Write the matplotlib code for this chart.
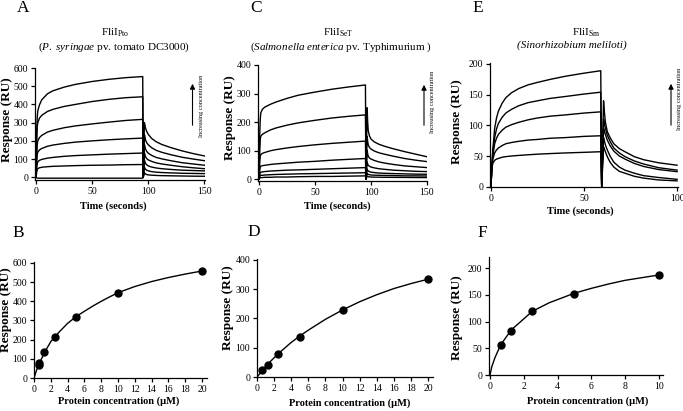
import matplotlib
matplotlib.use("Agg")
import matplotlib.pyplot as plt

plt.rcParams['font.family'] = ['Liberation Serif', 'DejaVu Serif']
plt.rcParams['mathtext.fontset'] = 'custom'
plt.rcParams['mathtext.rm'] = 'Liberation Serif'
plt.rcParams['mathtext.it'] = 'Liberation Serif:italic'
plt.rcParams['mathtext.bf'] = 'Liberation Serif:bold'

# ---------------- data: sensorgrams ----------------
# Panel A (FliI Pto)
A_t_assoc = [0, 0.5, 1, 1.5, 3, 5, 10, 15, 25, 35, 50, 65, 80, 95]
A_assoc = [
    [0, 250, 330, 365, 398, 425, 458, 475, 495, 510, 526, 538, 547, 553],
    [0, 200, 280, 300, 325, 340, 361, 373, 389, 400, 416, 428, 437, 442],
    [0, 130, 180, 200, 218, 230, 248, 258, 272, 282, 293, 303, 312, 318],
    [0, 90, 125, 138, 150, 158, 170, 177, 186, 193, 200, 206, 211, 215],
    [0, 55, 75, 85, 93, 98, 105, 109, 115, 119, 123, 127, 130, 133],
    [0, 30, 42, 48, 52, 55, 58, 60, 62, 64, 66, 67, 69, 70],
    [0, -3, -4, -5, -5, -5, -5, -5, -5, -5, -5, -5, -5, -5],
]
A_t_diss = [95.5, 96.5, 97, 97.5, 98.5, 100, 103, 107, 112, 120, 130, 140, 150]
A_diss = [
    [0, 300, 285, 270, 252, 235, 213, 195, 180, 163, 145, 130, 117],
    [0, 235, 220, 205, 190, 178, 162, 148, 137, 124, 110, 100, 91],
    [0, 180, 168, 155, 142, 132, 120, 109, 101, 91, 80, 73, 66],
    [0, 135, 123, 112, 103, 95, 87, 79, 73, 66, 58, 52, 47],
    [0, 95, 85, 76, 69, 62, 56, 51, 47, 43, 39, 37, 35],
    [0, 55, 49, 44, 39, 35, 31, 28, 26, 24, 22, 21, 20],
    [0, 25, 21, 18, 15, 13, 11.5, 10, 9, 8, 7, 6, 5.5],
]

# Panel C (FliI SeT)
C_t_assoc = [0, 0.5, 1, 1.5, 3, 5, 10, 15, 25, 35, 50, 65, 80, 95]
C_assoc = [
    [0, 150, 210, 232, 245, 252, 262, 270, 283, 294, 305, 315, 323, 330],
    [0, 100, 140, 150, 157, 162, 172, 179, 189, 197, 206, 214, 220, 225],
    [0, 60, 80, 86, 90, 93, 99, 103, 109, 114, 120, 125, 129, 133],
    [0, 30, 42, 45, 47, 48, 51, 53, 56, 59, 62, 66, 69, 72],
    [0, 15, 22, 24, 25, 26, 28, 29, 31, 32, 34, 36, 38, 40],
    [0, 8, 12, 13, 13, 14, 15, 16, 17, 18, 19, 20, 21, 22],
    [0, 3, 5, 5, 5, 6, 6, 7, 7, 8, 9, 9, 10, 11],
]
C_t_diss = [95.5, 96.5, 97, 97.5, 98.5, 100, 103, 107, 112, 120, 130, 140, 150]
C_diss = [
    [0, 250, 200, 170, 152, 140, 130, 122, 115, 106, 96, 87, 78],
    [0, 150, 132, 120, 111, 105, 98, 92, 87, 80, 72, 66, 61],
    [0, 100, 88, 80, 74, 70, 65, 60, 56, 51, 46, 43, 40],
    [0, 60, 53, 48, 45, 42, 39, 36, 34, 31, 29, 27, 26],
    [0, 35, 31, 28, 26, 24, 22.5, 21, 20, 19, 18, 17, 16.5],
    [0, 20, 18, 16, 15, 14, 13.5, 13, 12.5, 12, 11, 11, 10.5],
    [0, 10, 9, 8, 7.5, 7, 6.5, 6.3, 6, 5.8, 5.5, 5.2, 5],
]

# Panel E (FliI Sm)
E_t_assoc = [0, 0.5, 1, 2, 3, 4, 6, 8, 11, 15, 20, 25, 32, 40, 50, 59]
E_assoc = [
    [0, 35, 60, 95, 112, 123, 136, 145, 153, 160, 166, 170, 175, 180, 185, 189],
    [0, 33, 55, 80, 94, 103, 113, 120, 126, 132, 137, 140, 144, 147, 151, 154],
    [0, 30, 50, 70, 79, 85, 92, 97, 101, 105, 109, 112, 115, 117, 120, 122],
    [0, 28, 45, 55, 60, 63, 67, 70, 72, 74, 76, 77, 79, 80, 82, 83],
    [0, 30, 38, 43, 45, 46, 48, 49, 50, 51, 52, 53, 54, 55, 56, 57],
]
E_t_diss = [59.5, 60.5, 61, 61.5, 62.5, 64, 66, 69, 72, 77, 82, 90, 100]
E_diss = [
    [0, 140, 120, 105, 90, 80, 70, 62, 57, 49, 44, 39, 35],
    [0, 110, 102, 95, 84, 74, 63, 55, 49, 42, 37, 31, 27],
    [0, 95, 90, 85, 76, 67, 58, 50, 45, 38, 33, 28, 24.5],
    [0, 80, 74, 68, 60, 50, 40, 32, 27, 22, 18, 15, 12],
    [0, 65, 61, 57, 49, 40, 32, 25, 22, 17, 14, 11, 9.5],
]

# ---------------- data: binding isotherms ----------------
B_conc = [0.625, 0.625, 1.25, 2.5, 5, 10, 20]
B_resp = [68, 80, 135, 215, 320, 445, 556]
B_fit_x = [0, 0.3, 0.625, 1.25, 2, 2.5, 3, 4, 5, 6, 7, 8, 9, 10, 12, 14, 16, 18, 20]
B_fit_y = [0, 40, 75, 133, 190, 215, 240, 285, 320, 348, 375, 400, 423, 445, 477, 503, 524, 542, 558]

D_conc = [0.625, 1.25, 2.5, 5, 10, 20]
D_resp = [25, 42, 77, 137, 229, 333]
D_fit_x = [0, 0.625, 1.25, 2.5, 4, 5, 6, 8, 10, 12, 14, 16, 18, 20]
D_fit_y = [0, 22, 44, 80, 118, 140, 160, 197, 229, 257, 281, 302, 319, 334]

F_conc = [0.625, 1.25, 2.5, 5, 10]
F_resp = [56, 83, 120, 152, 187]
F_fit_x = [0, 0.1, 0.3, 0.625, 1.25, 2, 2.5, 3.5, 4, 5, 6, 7, 8, 9, 10]
F_fit_y = [0, 15, 33, 56, 84, 105, 119, 135, 141, 153, 162, 170, 177, 182, 187]

# ---------------- layout ----------------
W, H = 683, 411
fig = plt.figure(figsize=(W / 100, H / 100), dpi=100)


def ax_px(l, t, r, b):
    return fig.add_axes([l / W, 1 - b / H, (r - l) / W, (b - t) / H])


def ftext(x, y, s, **kw):
    kw.setdefault('ha', 'center')
    kw.setdefault('va', 'center')
    fig.text(x / W, 1 - y / H, s, **kw)


def style(ax):
    for s in ('top', 'right'):
        ax.spines[s].set_visible(False)
    for s in ('left', 'bottom'):
        ax.spines[s].set_linewidth(0.9)
    ax.tick_params(direction='out', length=3, width=0.9, labelsize=7, pad=2)


LW = 1.0


def sensorgram(ax, ta, assoc, td, diss):
    for a, d in zip(assoc, diss):
        ax.plot(list(ta) + list(td), list(a) + list(d), color='black', lw=LW,
                solid_joinstyle='round')


def arrow(x, ytop, ybot, tx, ty):
    fig.add_artist(matplotlib.patches.FancyArrowPatch(
        (x / W, 1 - ybot / H), (x / W, 1 - ytop / H), transform=fig.transFigure,
        arrowstyle='-|>,head_length=3,head_width=1.5', color='black', lw=0.8))
    ftext(tx, ty, 'Increasing concentration', rotation=90, fontsize=4.5)


# A
axA = ax_px(35, 68, 205, 180)
sensorgram(axA, A_t_assoc, A_assoc, A_t_diss, A_diss)
axA.set_xlim(-1, 150.5)
axA.set_ylim(-15, 600)
axA.set_xticks([0, 50, 100, 150])
axA.set_yticks(range(0, 601, 100))
style(axA)

# C
axC = ax_px(258, 65, 427, 181)
sensorgram(axC, C_t_assoc, C_assoc, C_t_diss, C_diss)
axC.set_xlim(-1, 150)
axC.set_ylim(-7, 400)
axC.set_xticks([0, 50, 100, 150])
axC.set_yticks(range(0, 401, 100))
style(axC)

# E
axE = ax_px(490, 63, 678, 187)
sensorgram(axE, E_t_assoc, E_assoc, E_t_diss, E_diss)
axE.set_xlim(-0.5, 100.5)
axE.set_ylim(-0.5, 201.6)
axE.set_xticks([0, 50, 100])
axE.set_yticks(range(0, 201, 50))
style(axE)

# B
axB = ax_px(34, 262, 207, 378)
axB.plot(B_fit_x, B_fit_y, color='black', lw=LW)
axB.plot(B_conc, B_resp, 'o', color='black', ms=5)
axB.set_xlim(0, 20.6)
axB.set_ylim(0, 605)
axB.set_xticks(range(0, 21, 2))
axB.set_yticks(range(0, 601, 100))
style(axB)

# D
axD = ax_px(257, 259, 433, 377)
axD.plot(D_fit_x, D_fit_y, color='black', lw=LW)
axD.plot(D_conc, D_resp, 'o', color='black', ms=5)
axD.set_xlim(0, 20.58)
axD.set_ylim(0, 403)
axD.set_xticks(range(0, 21, 2))
axD.set_yticks(range(0, 401, 100))
style(axD)

# F
axF = ax_px(489, 257, 663, 375)
axF.plot(F_fit_x, F_fit_y, color='black', lw=LW)
axF.plot(F_conc, F_resp, 'o', color='black', ms=5)
axF.set_xlim(-0.06, 10.24)
axF.set_ylim(0, 220.6)
axF.set_xticks(range(0, 11, 2))
axF.set_yticks(range(0, 201, 50))
style(axF)

# panel letters
for (x, y, s) in [(23, 8, 'A'), (256, 8, 'C'), (478, 8, 'E'),
                  (18, 233, 'B'), (254, 232, 'D'), (482, 233, 'F')]:
    ftext(x, y, s, fontsize=12.5)

# titles
ftext(115, 33, r'FliI$_{\mathregular{Pto}}$', fontsize=8)
ftext(114, 47, r'($\mathit{P.\ syringae}$ pv. tomato DC3000)', fontsize=8)
ftext(338, 33, r'FliI$_{\mathregular{SeT}}$', fontsize=8)
ftext(341, 47, r'($\mathit{Salmonella\ enterica}$ pv. Typhimurium )', fontsize=8)
ftext(586, 33, r'FliI$_{\mathregular{Sm}}$', fontsize=8)
ftext(572, 45, '(Sinorhizobium meliloti)', fontsize=8, style='italic')

# axis labels
ylab = dict(fontsize=9.5, fontweight='bold', rotation=90)
xlab = dict(fontsize=7.5, fontweight='bold')
ftext(7, 120, 'Response (RU)', **ylab)
ftext(230, 118, 'Response (RU)', **ylab)
ftext(457, 122, 'Response (RU)', **ylab)
ftext(6, 310, 'Response (RU)', **ylab)
ftext(228, 308, 'Response (RU)', **ylab)
ftext(457, 318, 'Response (RU)', **ylab)
ftext(113, 206, 'Time (seconds)', **xlab)
ftext(337, 206, 'Time (seconds)', **xlab)
ftext(580, 211, 'Time (seconds)', **xlab)
ftext(119, 401, 'Protein concentration (µM)', **xlab)
ftext(350, 403, 'Protein concentration (µM)', **xlab)
ftext(588, 401, 'Protein concentration (µM)', **xlab)

# arrows
arrow(192.5, 81, 128, 201, 106)
arrow(424, 82, 128, 432.5, 102)
arrow(671, 81, 128, 680, 99)

fig.savefig('out.png', dpi=100)
